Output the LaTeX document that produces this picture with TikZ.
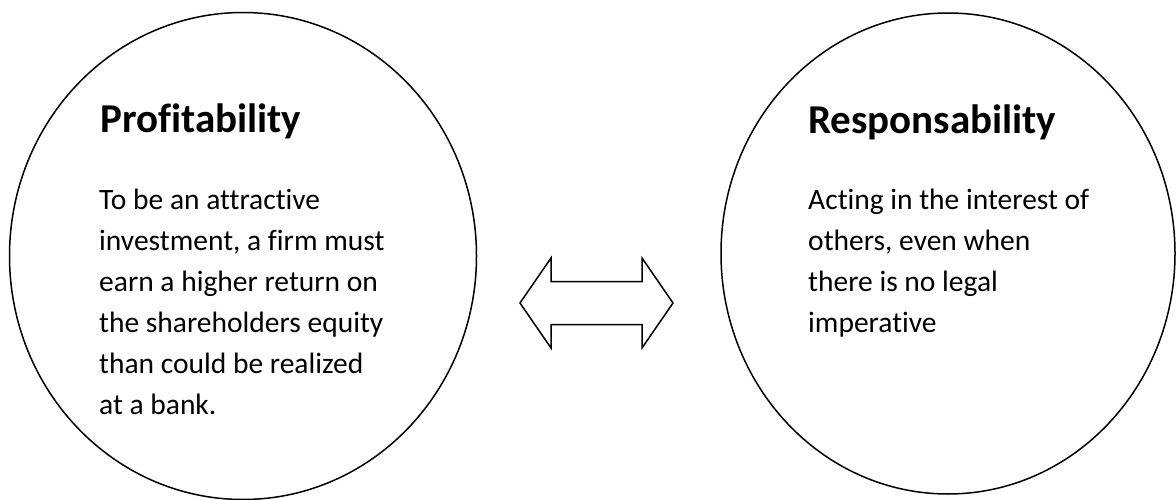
\documentclass[tikz,border=0pt]{standalone}
\usepackage{fontspec}
\setmainfont{Carlito}[Ligatures=NoCommon]
\usetikzlibrary{shapes.geometric,calc}

\begin{document}
\begin{tikzpicture}[x=1pt, y=-1pt,
  bub/.style={draw, ellipse, line width=1.5pt, inner sep=0pt},
  ttl/.style={font=\fontsize{41}{48}\selectfont\bfseries, anchor=base west, inner sep=0pt},
  txt/.style={font=\fontsize{29.5}{41}\selectfont, align=left, anchor=base west, inner sep=0pt},
  dbl/.style={draw, line width=1.5pt, line join=miter}]
\useasboundingbox (0,0) rectangle (1176,500);
\node[bub, minimum width=467pt, minimum height=487pt] (profit) at (243,256) {};
\node[bub, minimum width=454pt, minimum height=481pt] (resp) at (948,253.5) {};
\node[ttl] (profitT) at (100,133) {Profitability};
\node[txt] (profitB) at (99,414) {To be an attractive\\investment, a firm must\\earn a higher return on\\the shareholders equity\\than could be realized\\at a bank.};
\node[ttl] (respT) at (808,134) {Responsability};
\node[txt] (respB) at (808,332) {Acting in the interest of\\others, even when\\there is no legal\\imperative};
% two-way arrow between the circles
\coordinate (mid) at (596.5,303);
\draw[dbl] ($(mid)+(-76.5,0)$) -- ++(31,-45) -- ++(0,23.5) -- ++(91,0) -- ++(0,-23.5)
  -- ++(31,45) -- ++(-31,45) -- ++(0,-23.5) -- ++(-91,0) -- ++(0,23.5) -- cycle;
\end{tikzpicture}
\end{document}
